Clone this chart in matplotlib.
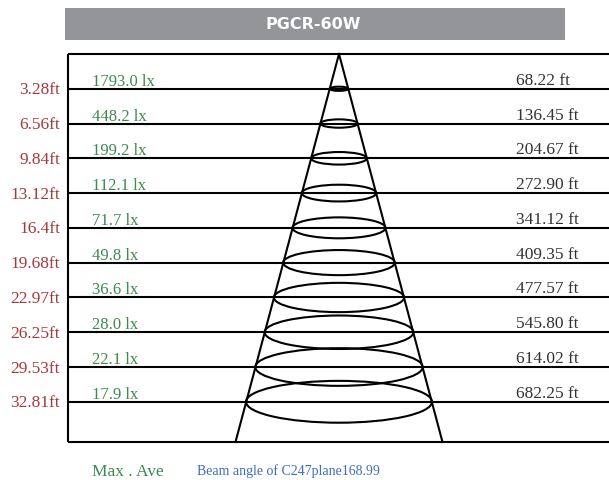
import matplotlib
matplotlib.use("Agg")
import matplotlib.pyplot as plt
from matplotlib.patches import Ellipse, Rectangle

title = "PGCR-60W"
distances_ft = [3.28, 6.56, 9.84, 13.12, 16.4, 19.68, 22.97, 26.25, 29.53, 32.81]
distance_labels = ["3.28ft", "6.56ft", "9.84ft", "13.12ft", "16.4ft", "19.68ft",
                   "22.97ft", "26.25ft", "29.53ft", "32.81ft"]
lux_labels = ["1793.0 lx", "448.2 lx", "199.2 lx", "112.1 lx", "71.7 lx",
              "49.8 lx", "36.6 lx", "28.0 lx", "22.1 lx", "17.9 lx"]
diameters_ft = [68.22, 136.45, 204.67, 272.90, 341.12, 409.35, 477.57, 545.80, 614.02, 682.25]
footer_left = "Max . Ave"
footer_right = "Beam angle of C247plane168.99"

W, H = 609, 480
fig = plt.figure(figsize=(W / 100, H / 100), dpi=100)
ax = fig.add_axes([0, 0, 1, 1])
ax.set_xlim(0, W)
ax.set_ylim(H, 0)
ax.axis("off")

RED = "#a53a3c"
GREEN = "#3d8a4e"
BLUE = "#3c6cc0"
DARK = "#333333"
LW = 1.5

# layout
top_y, bottom_y = 54, 442
left_x = 68
apex_x = 339
px_per_ft = 10.6          # vertical scale
w_per_ft = 0.1363         # half-width px per ft diameter
bottom_half = 103.5

# title bar
ax.add_patch(Rectangle((65, 8), 500, 32, facecolor="#939598", edgecolor="none"))
ax.text(313, 24.5, title, color="white", fontsize=11.5, fontweight="bold",
        family="DejaVu Sans", ha="center", va="center")

# frame lines
ax.plot([left_x, W], [top_y, top_y], color="black", lw=LW, solid_capstyle="butt")
ax.plot([left_x, W], [bottom_y, bottom_y], color="black", lw=LW, solid_capstyle="butt")
ax.plot([left_x, left_x], [top_y, bottom_y], color="black", lw=LW, solid_capstyle="butt")

# cone sides
ax.plot([apex_x, apex_x - bottom_half], [top_y, bottom_y], color="black", lw=LW)
ax.plot([apex_x, apex_x + bottom_half], [top_y, bottom_y], color="black", lw=LW)

serif = "Liberation Serif"
for d, dl, lx, dia in zip(distances_ft, distance_labels, lux_labels, diameters_ft):
    y = top_y + d * px_per_ft
    ax.plot([left_x, W], [y, y], color="black", lw=LW, solid_capstyle="butt")
    hw = dia * w_per_ft
    ax.add_patch(Ellipse((apex_x, y), 2 * hw, 2 * hw * 0.225, facecolor="none",
                         edgecolor="black", lw=LW))
    ax.text(60, y + 1.5, dl, color=RED, fontsize=12.5, family=serif, ha="right", va="center")
    ax.text(92, y - 3, lx, color=GREEN, fontsize=12, family=serif, ha="left", va="baseline")
    ax.text(516, y - 4, f"{dia:.2f} ft", color=DARK, fontsize=12.5, family=serif,
            ha="left", va="baseline")

ax.text(92, 476, footer_left, color=GREEN, fontsize=12.5, family=serif, ha="left", va="baseline")
ax.text(197, 475, footer_right, color=BLUE, fontsize=10, family=serif, ha="left", va="baseline")

fig.savefig("out.png", dpi=100)
